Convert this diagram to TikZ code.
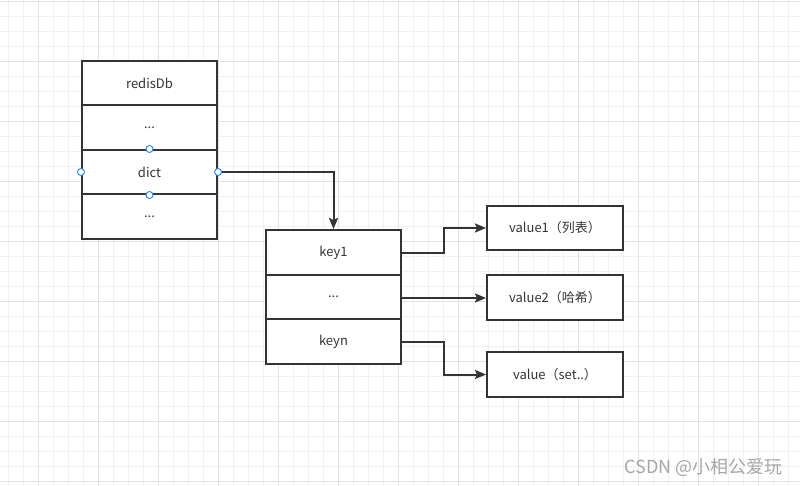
\documentclass[tikz,border=0pt]{standalone}
\usepackage{fontspec}
\setmainfont{Noto Sans CJK SC}
\usetikzlibrary{arrows.meta}
\definecolor{ink}{HTML}{333333}
\definecolor{gminor}{HTML}{F0F0F0}
\definecolor{gmajor}{HTML}{E2E2E2}
\definecolor{pin}{HTML}{2F8CF0}
\tikzset{
  cell/.style={draw=ink, line width=2bp, minimum width=135bp, inner sep=0pt, text=ink, font=\fontsize{13bp}{15bp}\selectfont},
  valbox/.style={cell, minimum width=136bp},
  link/.style={draw=ink, line width=2bp, -{Stealth[length=11bp,width=9bp,inset=2bp]}},
  pinmark/.style={circle, draw=pin, fill=white, line width=1bp, minimum size=7bp, inner sep=0pt}
}
\begin{document}
\begin{tikzpicture}[x=1bp,y=-1bp]
\useasboundingbox (0,0) rectangle (800,486);
\fill[white] (0,0) rectangle (800,486);
% grid
\foreach \i in {0,...,53} {
  \pgfmathsetmacro{\gx}{8.5+15*\i}
  \draw[gminor, line width=1bp] (\gx,0) -- (\gx,486);
}
\foreach \i in {0,...,32} {
  \pgfmathsetmacro{\gy}{1.5+15*\i}
  \draw[gminor, line width=1bp] (0,\gy) -- (800,\gy);
}
\foreach \i in {0,...,13} {
  \pgfmathsetmacro{\gx}{38.5+60*\i}
  \draw[gmajor, line width=1bp] (\gx,0) -- (\gx,486);
}
\foreach \i in {0,...,8} {
  \pgfmathsetmacro{\gy}{1.5+60*\i}
  \draw[gmajor, line width=1bp] (0,\gy) -- (800,\gy);
}
% white box interiors
\fill[white] (82,61) rectangle (217,239);
\fill[white] (266,230) rectangle (401,364);
\fill[white] (487,206) rectangle (623,250);
\fill[white] (487,275) rectangle (623,320);
\fill[white] (487,352) rectangle (623,397);
% left structure
\node[cell, minimum height=44bp] (db) at (149.5,83) {redisDb};
\node[cell, minimum height=45bp] (d1) at (149.5,127.5) {...};
\node[cell, minimum height=44bp] (dict) at (149.5,172) {dict};
\node[cell, minimum height=45bp] (d2) at (149.5,216.5) {...};
% middle
\node[cell, minimum height=45bp] (k1) at (333.5,252.5) {key1};
\node[cell, minimum height=44bp] (k2) at (333.5,297) {...};
\node[cell, minimum height=45bp] (kn) at (333.5,341.5) {keyn};
% values
\node[valbox, minimum height=44bp] (v1) at (555,228) {value1（列表）};
\node[valbox, minimum height=45bp] (v2) at (555,297.5) {value2（哈希）};
\node[valbox, minimum height=45bp] (v3) at (555,374.5) {value（set..）};
% connectors
\draw[link] (dict.east) -| (k1.north);
\coordinate (b1) at (444,253);
\coordinate (b2) at (444,298);
\coordinate (b3) at (444,342);
\draw[link] (k1.east |- b1) -- (b1) |- (v1.west);
\draw[link] (k2.east |- b2) -- (v2.west |- b2);
\draw[link] (kn.east |- b3) -- (b3) |- (v3.west);
% connection pins
\node[pinmark] (p1) at (dict.west) {};
\node[pinmark] (p2) at (dict.east) {};
\node[pinmark] (p3) at (dict.north) {};
\node[pinmark] (p4) at (dict.south) {};
% watermark
\node[text=gray!70, font=\fontsize{18bp}{21bp}\selectfont, anchor=east] (wm) at (786,467) {CSDN @小相公爱玩};
\end{tikzpicture}
\end{document}
